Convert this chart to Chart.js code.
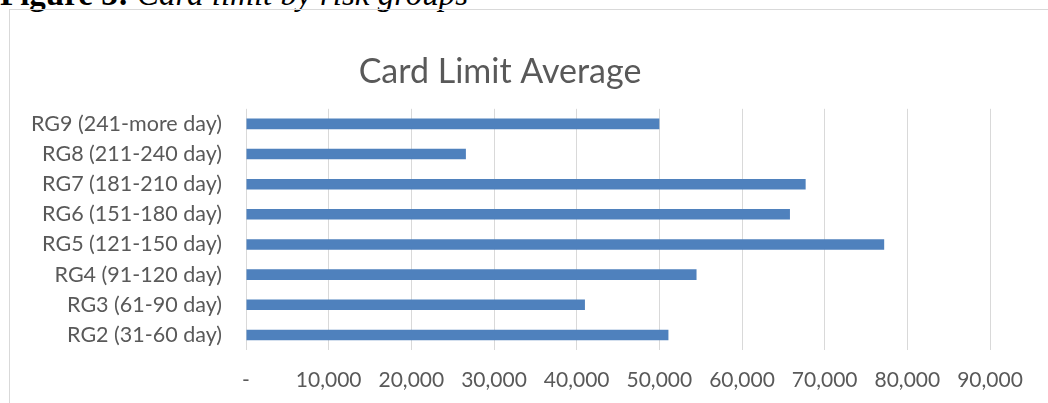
<!DOCTYPE html>
<html>
<head>
<meta charset="utf-8">
<script src="https://cdn.jsdelivr.net/npm/chart.js@4"></script>
<style>
  html, body { margin: 0; padding: 0; width: 1048px; height: 403px; overflow: hidden; background: #fff; }
  #caption { position: absolute; left: 0; top: -24px; font-family: "Liberation Serif", serif; font-size: 33px; color: #000; white-space: nowrap; }
  #caption b { font-weight: bold; }
  #caption i { font-style: italic; }
  #frame { position: absolute; left: 9px; top: 9px; width: 1046px; height: 420px; border: 1px solid #d9d9d9; }
  #wrap { position: absolute; left: 10px; top: 10px; width: 1046px; height: 393px; }
</style>
</head>
<body>
<div id="caption"><b>Figure 3:</b> <i>Card limit by risk groups</i></div>
<div id="frame"></div>
<div id="wrap"><canvas id="cardChart"></canvas></div>
<script>
// groups top to bottom, as in the picture
let grupos = ['RG9 (241-more day)', 'RG8 (211-240 day)', 'RG7 (181-210 day)', 'RG6 (151-180 day)',
              'RG5 (121-150 day)', 'RG4 (91-120 day)', 'RG3 (61-90 day)', 'RG2 (31-60 day)'];
let limitePromedio = [50000, 26600, 67700, 65800, 77200, 54500, 41000, 51100];
let ticksX = [0, 10000, 20000, 30000, 40000, 50000, 60000, 70000, 80000, 90000];

let gris = '#595959';
let ctx = document.getElementById('cardChart');
new Chart(ctx, {
    type: 'bar',
    data: {
        labels: grupos,
        datasets: [{
            label: 'Card Limit Average',
            data: limitePromedio,
            backgroundColor: '#4f81bd',
            borderWidth: 0,
            categoryPercentage: 1,
            barPercentage: 0.35
        }]
    },
    options: {
        indexAxis: 'y',
        responsive: true,
        maintainAspectRatio: false,
        animation: false,
        layout: { padding: { top: 0, left: 0, right: 66, bottom: 0 } },
        scales: {
            x: {
                min: ticksX[0],
                max: ticksX[ticksX.length - 1],
                afterBuildTicks: function(scale) {
                    scale.ticks = ticksX.map(v => ({ value: v }));
                },
                afterFit: function(scale) { scale.height = 53; },
                grid: { color: '#d9d9d9', lineWidth: 1, drawTicks: false },
                border: { display: false },
                ticks: {
                    color: gris,
                    padding: 18,
                    font: { family: 'Lato', size: 21 },
                    callback: function(v) {
                        return v === 0 ? '-' : v.toLocaleString('en-US');
                    }
                }
            },
            y: {
                afterFit: function(scale) { scale.width = 236; },
                grid: { display: false, drawTicks: false },
                border: { display: false },
                ticks: {
                    color: gris,
                    padding: 24,
                    font: { family: 'Lato', size: 21.5 }
                }
            }
        },
        plugins: {
            legend: { display: false },
            tooltip: { enabled: false },
            title: {
                display: true,
                text: 'Card Limit Average',
                color: gris,
                font: { family: 'Lato', size: 34, weight: 'normal' },
                padding: { top: 42, bottom: 16 }
            }
        }
    }
});
</script>
</body>
</html>
